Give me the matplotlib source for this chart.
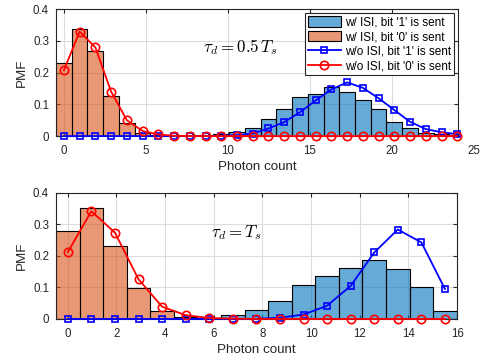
import numpy as np
import matplotlib.pyplot as plt
from matplotlib.patches import Patch
from matplotlib.lines import Line2D

plt.rcParams['font.family'] = ['Liberation Sans', 'DejaVu Sans']
plt.rcParams['mathtext.fontset'] = 'cm'

# ---- data (PMF per photon-count bin) ----
# top panel: tau_d = 0.5 T_s, 26 bins of width 0.96
top_width = 0.96
top_isi_1 = [0, 0, 0, 0, 0, 0, 0, 0, 0, 0.002, 0.006, 0.014, 0.026,
             0.054, 0.085, 0.124, 0.131, 0.153, 0.139, 0.114, 0.084,
             0.044, 0.026, 0.011, 0.007, 0.003]
top_isi_0 = [0.229, 0.337, 0.267, 0.127, 0.040, 0.011, 0.003, 0.001, 0, 0,
             0, 0, 0, 0, 0, 0, 0, 0, 0, 0, 0, 0, 0, 0, 0, 0]
top_noisi_1 = [0, 0, 0, 0, 0, 0, 0, 0, 0, 0, 0.001, 0.003, 0.008, 0.024,
               0.044, 0.075, 0.112, 0.147, 0.169, 0.152, 0.119, 0.082,
               0.045, 0.022, 0.012, 0.006]
top_noisi_0 = [0.207, 0.329, 0.279, 0.140, 0.050, 0.016, 0.005, 0.001, 0, 0,
               0, 0, 0, 0, 0, 0, 0, 0, 0, 0, 0, 0, 0, 0, 0, 0]

# bottom panel: tau_d = T_s, 17 bins of width 0.96875
bot_width = 0.96875
bot_isi_1 = [0, 0, 0, 0, 0, 0, 0.004, 0.014, 0.029, 0.058, 0.107, 0.135,
             0.161, 0.186, 0.159, 0.103, 0.026]
bot_isi_0 = [0.280, 0.352, 0.231, 0.097, 0.024, 0.007, 0.002, 0, 0, 0, 0,
             0, 0, 0, 0, 0, 0]
bot_noisi_1 = [0, 0, 0, 0, 0, 0, 0, 0, 0, 0.004, 0.014, 0.042, 0.105,
               0.211, 0.284, 0.243, 0.095]
bot_noisi_0 = [0.212, 0.342, 0.274, 0.126, 0.039, 0.012, 0.003, 0.001, 0,
               0, 0, 0, 0, 0, 0, 0, 0]

labels = ["w/ ISI, bit '1' is sent", "w/ ISI, bit '0' is sent",
          "w/o ISI, bit '1' is sent", "w/o ISI, bit '0' is sent"]

blue_face = (0, 0.447, 0.741, 0.6)
orange_face = (0.85, 0.325, 0.098, 0.6)
axcol = '#262626'


def panel(ax, width, isi1, isi0, noisi1, noisi0, xlim, xticks, txt, txt_xy):
    x = np.arange(len(isi1)) * width
    ax.bar(x, isi1, width=width, facecolor=blue_face, edgecolor='k',
           linewidth=0.8, zorder=2)
    ax.bar(x, isi0, width=width, facecolor=orange_face, edgecolor='k',
           linewidth=0.8, zorder=2)
    ax.plot(x, noisi1, '-s', color='b', lw=1.3, ms=4.2, mfc='none', mew=1.2,
            clip_on=False, zorder=3)
    ax.plot(x, noisi0, '-o', color='r', lw=1.3, ms=6, mfc='none', mew=1.2,
            clip_on=False, zorder=4)
    ax.set_xlim(*xlim)
    ax.set_ylim(0, 0.4)
    ax.set_xticks(xticks)
    ax.set_yticks([0, 0.1, 0.2, 0.3, 0.4])
    ax.set_yticklabels(['0', '0.1', '0.2', '0.3', '0.4'])
    ax.grid(True, color='#dcdcdc', lw=0.8, zorder=0)
    ax.set_axisbelow(True)
    ax.tick_params(direction='in', top=True, right=True, labelsize=8.3,
                   colors=axcol, length=3)
    ax.tick_params(axis='x', pad=6.2)
    ax.tick_params(axis='y', pad=5)
    for s in ax.spines.values():
        s.set_color(axcol)
        s.set_linewidth(0.8)
    ax.set_xlabel('Photon count', fontsize=9.6, color=axcol, labelpad=3)
    ax.set_ylabel('PMF', fontsize=9.6, color=axcol, labelpad=4)
    ax.text(txt_xy[0], txt_xy[1], txt, fontsize=12.2, va='center', ha='left')


fig = plt.figure(figsize=(4.85, 3.6), dpi=100)
ax1 = fig.add_axes([0.1155, 0.622, 0.829, 0.353])
ax2 = fig.add_axes([0.1155, 0.114, 0.827, 0.350])

panel(ax1, top_width, top_isi_1, top_isi_0, top_noisi_1, top_noisi_0,
      (-0.48, 24.05), [0, 5, 10, 15, 20], r'$\tau_d = 0.5\,T_s$', (8.5, 0.28))
# the '25' label sits just past the right edge in the original
ax1.annotate('25', xy=(25, 0), xycoords=('data', 'axes fraction'),
             xytext=(0, -6.2), textcoords='offset points', fontsize=8.3,
             color=axcol, ha='center', va='top', annotation_clip=False)

panel(ax2, bot_width, bot_isi_1, bot_isi_0, bot_noisi_1, bot_noisi_0,
      (-0.484, 16.0), [0, 2, 4, 6, 8, 10, 12, 14, 16], r'$\tau_d = T_s$',
      (5.9, 0.273))

handles = [
    Patch(facecolor=blue_face, edgecolor='k', linewidth=0.8),
    Patch(facecolor=orange_face, edgecolor='k', linewidth=0.8),
    Line2D([], [], color='b', marker='s', lw=1.3, ms=4.2, mfc='none', mew=1.2),
    Line2D([], [], color='r', marker='o', lw=1.3, ms=6, mfc='none', mew=1.2),
]
leg = ax1.legend(handles, labels, loc='upper right', fontsize=8.5,
                 fancybox=False, framealpha=1, edgecolor=axcol,
                 handlelength=2.8, handleheight=1.0, borderaxespad=0.35,
                 labelspacing=0.2, handletextpad=0.35, borderpad=0.25)
leg.get_frame().set_linewidth(0.8)

fig.savefig('out.png', dpi=100)
